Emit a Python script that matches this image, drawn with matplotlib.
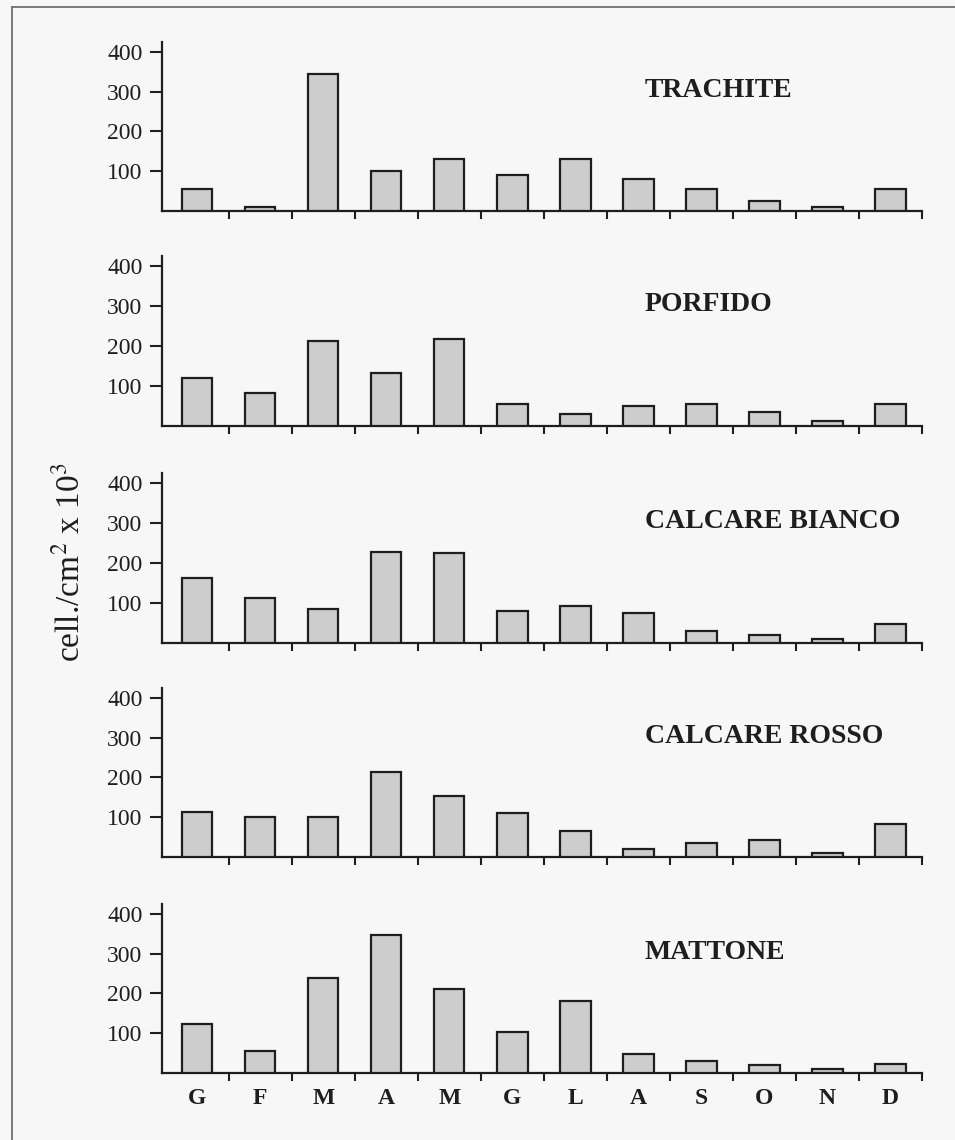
import matplotlib
matplotlib.use("Agg")
import matplotlib.pyplot as plt
import matplotlib.transforms as mtransforms
from matplotlib.lines import Line2D
import numpy as np

# Monthly cell density per stone type (cell./cm^2 x 10^3)
months = ['G', 'F', 'M', 'A', 'M', 'G', 'L', 'A', 'S', 'O', 'N', 'D']
stones = ['TRACHITE', 'PORFIDO', 'CALCARE BIANCO', 'CALCARE ROSSO', 'MATTONE']
trachite = [55, 10, 345, 101, 131, 91, 132, 81, 55, 25, 11, 55]
porfido = [119, 83, 212, 132, 217, 54, 31, 49, 56, 35, 12, 56]
calcare_bianco = [162, 113, 84, 227, 225, 81, 93, 76, 30, 20, 9, 47]
calcare_rosso = [112, 100, 101, 214, 154, 111, 65, 19, 36, 43, 11, 82]
mattone = [123, 55, 240, 347, 211, 102, 180, 48, 31, 21, 11, 23]
y_ticks = [100, 200, 300, 400]

series = [trachite, porfido, calcare_bianco, calcare_rosso, mattone]

plt.rcParams['font.family'] = ['Liberation Serif', 'DejaVu Serif']

W, H = 955, 1140
fig = plt.figure(figsize=(W / 100, H / 100), dpi=100)
fig.patch.set_facecolor('#f7f7f7')

ink = '#1e1e1e'
bar_fill = '#cdcdcd'

# pixel geometry of each panel: (top, baseline)
panel_px = [(42, 211), (256, 426), (473, 643), (688, 857), (904, 1073)]
left_px, right_px = 162, 922
ymax = 425

x = np.arange(len(months))

for i, (name, vals) in enumerate(zip(stones, series)):
    top, base = panel_px[i]
    ax = fig.add_axes([left_px / W, 1 - base / H, (right_px - left_px) / W, (base - top) / H])
    ax.set_facecolor('none')
    ax.bar(x, vals, width=0.48, color=bar_fill, edgecolor=ink, linewidth=1.6, zorder=3)
    ax.set_xlim(-0.56, len(months) - 0.5)
    ax.set_ylim(0, ymax)

    for s in ['top', 'right']:
        ax.spines[s].set_visible(False)
    for s in ['left', 'bottom']:
        ax.spines[s].set_color(ink)
        ax.spines[s].set_linewidth(1.6)

    ax.set_yticks(y_ticks)
    ax.set_yticklabels([str(v) for v in y_ticks])
    ax.tick_params(axis='y', direction='out', length=9, width=1.5, color=ink,
                   labelsize=17, pad=5, labelcolor=ink)

    # boundary ticks between months, labels at month centres
    ax.set_xticks(np.arange(0.5, len(months), 1.0))
    ax.set_xticklabels([])
    ax.tick_params(axis='x', which='major', direction='out', length=6, width=1.5, color=ink)
    ax.set_xticks(x, minor=True)
    if i == len(stones) - 1:
        ax.set_xticklabels(months, minor=True, fontweight='bold', fontsize=17, color=ink)
    else:
        ax.set_xticklabels([], minor=True)
    ax.tick_params(axis='x', which='minor', length=0, pad=11)

    title_tr = mtransforms.blended_transform_factory(ax.transAxes, ax.transData)
    ax.text(0.6355, 303, name, transform=title_tr,
            ha='left', va='center', fontsize=20, fontweight='bold', color=ink)

fig.text(70 / W, 1 - 562 / H, r'cell./cm$^{2}$ x 10$^{3}$', rotation=90,
         ha='center', va='center', fontsize=24, color=ink,
         math_fontfamily='stix')

# outer frame (left and top edges)
frame_col = '#707070'
fig.add_artist(Line2D([12 / W, 12 / W], [0, 1 - 7 / H], transform=fig.transFigure,
                      color=frame_col, linewidth=1.3))
fig.add_artist(Line2D([12 / W, 1], [1 - 7 / H, 1 - 7 / H], transform=fig.transFigure,
                      color=frame_col, linewidth=1.3))

fig.savefig('out.png', dpi=100, facecolor=fig.get_facecolor())
